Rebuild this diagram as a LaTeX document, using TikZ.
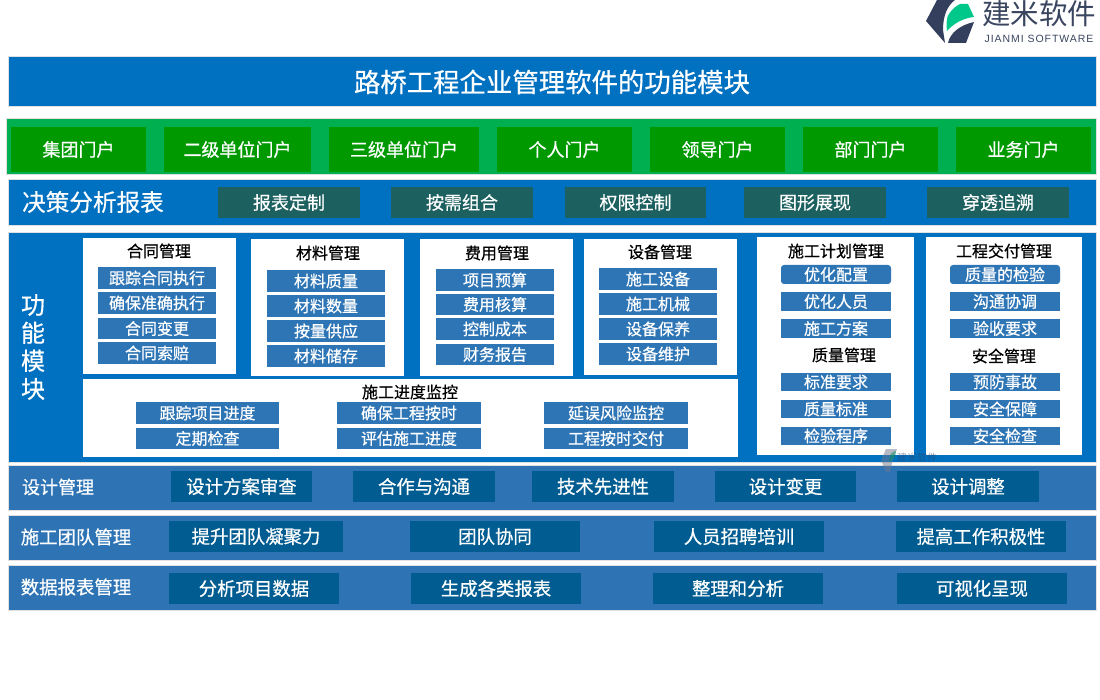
\documentclass[tikz,border=0pt]{standalone}
\usepackage{fontspec}
\setmainfont[FakeBold=0.6]{Noto Sans CJK SC}
\newfontfamily\plaincjk{Noto Sans CJK SC}
\newfontfamily\latinlogo[LetterSpace=9]{Liberation Sans}
\definecolor{bandblue}{HTML}{0070C0}
\definecolor{bandgreen}{HTML}{00B050}
\definecolor{itemgreen}{HTML}{009900}
\definecolor{itemteal}{HTML}{1C6060}
\definecolor{steelband}{HTML}{2E74B5}
\definecolor{itemsteel}{HTML}{2E75B6}
\definecolor{itemnavy}{HTML}{005C91}
\definecolor{logonavy}{HTML}{333F5C}
\definecolor{logogreen}{HTML}{00C88A}
\definecolor{logotext}{HTML}{3A4660}
\tikzset{
  boxbase/.style={inner sep=0pt,outer sep=0pt,align=center,text=white,font=\fontsize{18}{18}\selectfont},
  bluebandbox/.style={boxbase,fill=bandblue,draw=black!12,line width=1pt},
  greenbandbox/.style={boxbase,fill=bandgreen,draw=black!12,line width=1pt},
  steelbandbox/.style={boxbase,fill=steelband,draw=black!12,line width=1pt},
  portalbox/.style={boxbase,fill=itemgreen},
  tealbox/.style={boxbase,fill=itemteal},
  navybox/.style={boxbase,fill=itemnavy,font=\fontsize{18.4}{18.4}\selectfont},
  whitebox/.style={boxbase,fill=white},
  minibox/.style={boxbase,fill=itemsteel,font=\fontsize{16}{16}\selectfont},
  roundmini/.style={minibox,rounded corners=3pt},
  headtext/.style={inner sep=0pt,text=black,font=\fontsize{16}{16}\selectfont},
  bandlabel/.style={inner sep=0pt,text=white,font=\fontsize{18.4}{18.4}\selectfont},
}
% \bx{style}{name}{x1}{y1}{x2}{y2}{text}
\newcommand{\bx}[7]{%
  \pgfmathsetmacro{\cxx}{(#3+#5)/2}\pgfmathsetmacro{\cyy}{(#4+#6)/2}%
  \pgfmathsetmacro{\wdd}{#5-#3}\pgfmathsetmacro{\htt}{#6-#4}%
  \node[#1,minimum width=\wdd pt,minimum height=\htt pt] (#2) at (\cxx,\cyy) {#7};%
}
\begin{document}
\begin{tikzpicture}[x=1pt,y=-1pt]
\useasboundingbox (0,0) rectangle (1100,700);
% logo
\fill[logonavy] (937,0) -- (955,0) .. controls (947,6) and (943,16) .. (943,30) -- (945,43) -- (926,21) -- cycle;
\fill[logogreen] (947,31) .. controls (946,22) and (947,16) .. (949,14) .. controls (952,9) and (956,6) .. (960,4) -- (968,4) -- (974,17) .. controls (964,18) and (954,23) .. (947,31) -- cycle;
\fill[logonavy] (948,43) .. controls (950,33) and (960,25) .. (974,22) -- (966,43) -- cycle;
\node[inner sep=0pt,text=logotext,font=\plaincjk\fontsize{28.5}{28.5}\selectfont] (logocn) at (1039,14) {建米软件};
\node[inner sep=0pt,text=logotext,font=\latinlogo\fontsize{10.5}{10.5}\selectfont] (logoen) at (1039,38.5) {JIANMI SOFTWARE};
% title
\bx{bluebandbox,font=\fontsize{26.4}{26.4}\selectfont}{title}{8}{57}{1096}{107}{路桥工程企业管理软件的功能模块}
% portal band
\bx{greenbandbox}{portalband}{6}{119}{1096}{175}{}
\bx{portalbox}{p1}{11}{127}{146}{172}{集团门户}
\bx{portalbox}{p2}{164}{127}{311}{172}{二级单位门户}
\bx{portalbox}{p3}{329}{127}{479}{172}{三级单位门户}
\bx{portalbox}{p4}{497}{127}{632}{172}{个人门户}
\bx{portalbox}{p5}{650}{127}{785}{172}{领导门户}
\bx{portalbox}{p6}{803}{127}{938}{172}{部门门户}
\bx{portalbox}{p7}{956}{127}{1091}{172}{业务门户}
% decision band
\bx{bluebandbox}{decisionband}{8}{180}{1096}{226}{}
\node[inner sep=0pt,text=white,font=\fontsize{23.6}{23.6}\selectfont] (decisionlabel) at (93,202) {决策分析报表};
\bx{tealbox}{d1}{218}{187}{360}{218}{报表定制}
\bx{tealbox}{d2}{391}{187}{533}{218}{按需组合}
\bx{tealbox}{d3}{565}{187}{706}{218}{权限控制}
\bx{tealbox}{d4}{744}{187}{886}{218}{图形展现}
\bx{tealbox}{d5}{927}{187}{1069}{218}{穿透追溯}
% function band
\bx{bluebandbox}{funcband}{8}{233}{1096}{462}{}
\node[inner sep=0pt,text=white,align=center,font=\fontsize{24}{28}\selectfont] (funclabel) at (33,347) {功\\能\\模\\块};
% contract
\bx{whitebox}{w1}{83}{238}{236}{374}{}
\node[headtext] (h1) at (159,251) {合同管理};
\bx{minibox}{a1}{98}{267}{216}{289}{跟踪合同执行}
\bx{minibox}{a2}{98}{292}{216}{314}{确保准确执行}
\bx{minibox}{a3}{98}{318}{216}{339}{合同变更}
\bx{minibox}{a4}{98}{342}{216}{364}{合同索赔}
% material
\bx{whitebox}{w2}{251}{239}{404}{376}{}
\node[headtext] (h2) at (328,253) {材料管理};
\bx{minibox}{b1}{267}{270}{385}{292}{材料质量}
\bx{minibox}{b2}{267}{295}{385}{317}{材料数量}
\bx{minibox}{b3}{267}{320}{385}{342}{按量供应}
\bx{minibox}{b4}{267}{345}{385}{367}{材料储存}
% cost
\bx{whitebox}{w3}{420}{239}{573}{376}{}
\node[headtext] (h3) at (497,253) {费用管理};
\bx{minibox}{c1}{436}{269}{554}{291}{项目预算}
\bx{minibox}{c2}{436}{294}{554}{315}{费用核算}
\bx{minibox}{c3}{436}{318}{554}{340}{控制成本}
\bx{minibox}{c4}{436}{344}{554}{365}{财务报告}
% equipment
\bx{whitebox}{w4}{584}{239}{737}{375}{}
\node[headtext] (h4) at (660,252) {设备管理};
\bx{minibox}{e1}{599}{268}{717}{290}{施工设备}
\bx{minibox}{e2}{599}{293}{717}{315}{施工机械}
\bx{minibox}{e3}{599}{318}{717}{340}{设备保养}
\bx{minibox}{e4}{599}{343}{717}{365}{设备维护}
% progress
\bx{whitebox}{w5}{83}{379}{738}{457}{}
\node[headtext] (h5) at (410,392) {施工进度监控};
\bx{minibox}{f1}{136}{402}{279}{424}{跟踪项目进度}
\bx{minibox}{f2}{136}{428}{279}{449}{定期检查}
\bx{minibox}{f3}{337}{402}{481}{424}{确保工程按时}
\bx{minibox}{f4}{337}{428}{481}{449}{评估施工进度}
\bx{minibox}{f5}{544}{402}{688}{424}{延误风险监控}
\bx{minibox}{f6}{544}{428}{688}{449}{工程按时交付}
% plan + quality
\bx{whitebox}{w6}{757}{237}{914}{455}{}
\node[headtext] (h6) at (836,251) {施工计划管理};
\bx{roundmini}{g1}{781}{265}{891}{284}{优化配置}
\bx{minibox}{g2}{781}{292}{891}{311}{优化人员}
\bx{minibox}{g3}{781}{319}{891}{338}{施工方案}
\node[headtext] (h7) at (844,355) {质量管理};
\bx{minibox}{g4}{781}{373}{891}{391}{标准要求}
\bx{minibox}{g5}{781}{400}{891}{418}{质量标准}
\bx{minibox}{g6}{781}{427}{891}{445}{检验程序}
% delivery + safety
\bx{whitebox}{w7}{926}{237}{1082}{455}{}
\node[headtext] (h8) at (1004,251) {工程交付管理};
\bx{roundmini}{k1}{950}{265}{1060}{284}{质量的检验}
\bx{minibox}{k2}{950}{292}{1060}{311}{沟通协调}
\bx{minibox}{k3}{950}{319}{1060}{338}{验收要求}
\node[headtext] (h9) at (1004,356) {安全管理};
\bx{minibox}{k4}{950}{373}{1060}{391}{预防事故}
\bx{minibox}{k5}{950}{400}{1060}{418}{安全保障}
\bx{minibox}{k6}{950}{427}{1060}{445}{安全检查}
% design
\bx{steelbandbox}{designband}{8}{465}{1096}{510}{}
\node[bandlabel,font=\fontsize{18}{18}\selectfont] (designlabel) at (58,487) {设计管理};
\bx{navybox}{m1}{171}{471}{312}{502}{设计方案审查}
\bx{navybox}{m2}{353}{471}{495}{502}{合作与沟通}
\bx{navybox}{m3}{532}{471}{674}{502}{技术先进性}
\bx{navybox}{m4}{715}{471}{856}{502}{设计变更}
\bx{navybox}{m5}{897}{471}{1039}{502}{设计调整}
% team
\bx{steelbandbox}{teamband}{8}{515}{1096}{560}{}
\node[bandlabel] (teamlabel) at (76,537) {施工团队管理};
\bx{navybox}{n1}{169}{521}{343}{552}{提升团队凝聚力}
\bx{navybox}{n2}{410}{521}{580}{552}{团队协同}
\bx{navybox}{n3}{654}{521}{824}{552}{人员招聘培训}
\bx{navybox}{n4}{896}{521}{1066}{552}{提高工作积极性}
% data
\bx{steelbandbox}{databand}{8}{565}{1096}{610}{}
\node[bandlabel] (datalabel) at (76,587) {数据报表管理};
\bx{navybox}{q1}{169}{573}{339}{604}{分析项目数据}
\bx{navybox}{q2}{411}{573}{581}{604}{生成各类报表}
\bx{navybox}{q3}{653}{573}{823}{604}{整理和分析}
\bx{navybox}{q4}{897}{573}{1067}{604}{可视化呈现}
% watermark
\begin{scope}[opacity=.5]
\fill[logonavy!70] (886,449) -- (881,460) -- (886,472) -- (890,472) -- (893,459) -- (897,449) -- cycle;
\fill[logogreen!70!black] (889,462) .. controls (889,455) and (892,451) .. (896,451) -- (895,458) -- cycle;
\node[inner sep=0pt,text=logonavy,font=\plaincjk\fontsize{10}{10}\selectfont] (wm) at (917,458) {建米软件};
\end{scope}
\end{tikzpicture}
\end{document}
